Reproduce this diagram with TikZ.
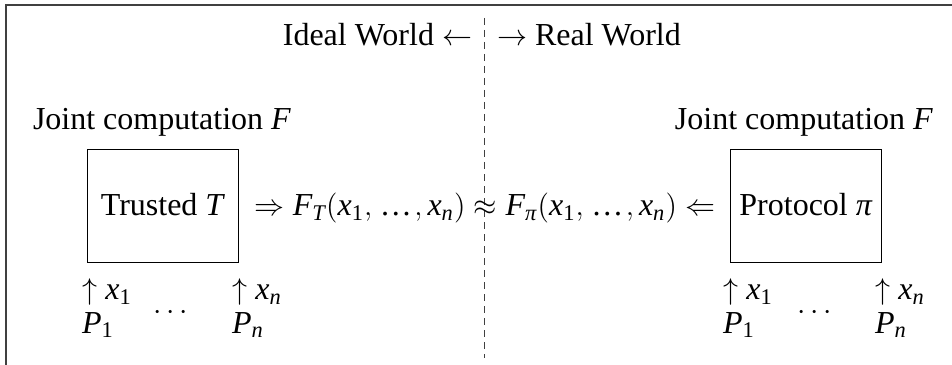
\documentclass[tikz,border=0pt]{standalone}
\usepackage{amsmath}
\usepackage{fontspec}
\setmainfont{Liberation Serif}
\newcommand\vi[1]{\text{\itshape #1}}
\newcommand\vs[1]{\text{#1}}
\newcommand\xs{\vi{x}_{\vs{1}},\mkern1.5mu\text{…}\mkern1.5mu,\vi{x}_{\vi{n}}}
\begin{document}
\begin{tikzpicture}[x=0.4pt,y=-0.4pt,
  font=\fontsize{12.8}{15}\selectfont,
  lbl/.style={inner sep=0pt, outer sep=0pt},
  box/.style={draw, line width=0.4pt, minimum width=60.4pt, minimum height=44.8pt, inner sep=0pt}]
\useasboundingbox (0,0) rectangle (952,365);
\draw[line width=0.5pt, black!75] (6,365) -- (6,5) -- (952,5);
\coordinate (dtop) at (484,18);
\coordinate (dbot) at (484,358);
\draw[line width=0.4pt, black!75, dash pattern=on 2.8pt off 2pt] (dtop) -- (dbot);
% headings
\node[lbl, anchor=base east] (ideal) at (472,46) {Ideal World $\leftarrow$};
\node[lbl, anchor=base west] (real) at (497,46) {$\rightarrow$ Real World};
\node[lbl, anchor=base west] (jl) at (33,130) {Joint computation \textit{F}};
\node[lbl, anchor=base east] (jr) at (933,130) {Joint computation \textit{F}};
% boxes
\node[box] (trusted) at (163,206) {};
\node[lbl, anchor=base] (ttext) at (163,216) {Trusted \textit{T}};
\node[box] (proto) at (806,206) {};
\node[lbl, anchor=base] (ptext) at (806,216) {Protocol \textit{π}};
% equation
\node[lbl, anchor=base] (eq) at (485,216) {$\Rightarrow \vi{F}_{\vi{T}}(\xs)\approx \vi{F}_{\vi{π}}(\xs)\Leftarrow$};
% left parties
\node[lbl, anchor=base west] (lx1) at (82,300) {$\uparrow \vi{x}_{\vs{1}}$};
\node[lbl, anchor=base west] (lp1) at (82,333) {$\vi{P}_{\vs{1}}$};
\node[lbl] (ldots) at (173,313) {$\cdots$};
\node[lbl, anchor=base west] (lxn) at (232,300) {$\uparrow \vi{x}_{\vi{n}}$};
\node[lbl, anchor=base west] (lpn) at (232,333) {$\vi{P}_{\vi{n}}$};
% right parties
\node[lbl, anchor=base west] (rx1) at (723,300) {$\uparrow \vi{x}_{\vs{1}}$};
\node[lbl, anchor=base west] (rp1) at (723,333) {$\vi{P}_{\vs{1}}$};
\node[lbl] (rdots) at (817,313) {$\cdots$};
\node[lbl, anchor=base west] (rxn) at (875,300) {$\uparrow \vi{x}_{\vi{n}}$};
\node[lbl, anchor=base west] (rpn) at (875,333) {$\vi{P}_{\vi{n}}$};
\end{tikzpicture}
\end{document}
